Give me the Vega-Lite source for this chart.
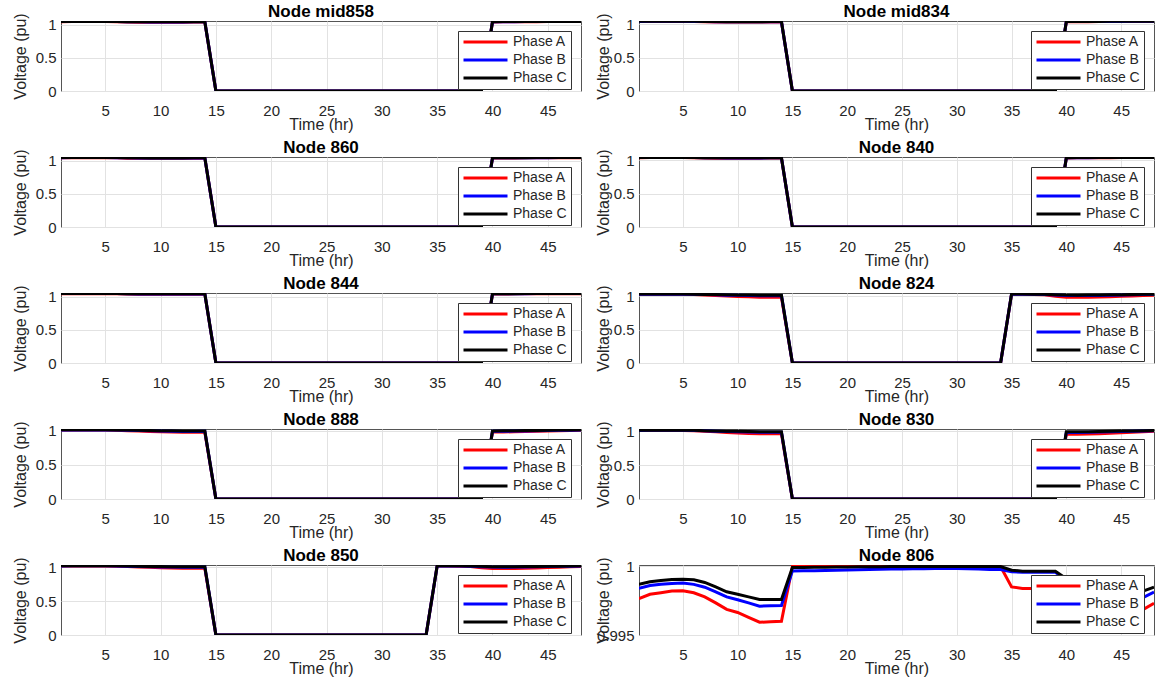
{
"$schema":"https://vega.github.io/schema/vega-lite/v6.json",
"padding":{"left":11,"top":2,"right":0,"bottom":0},
"background":"white",
"config":{
 "font":"Liberation Sans",
 "view":{"stroke":"#555555","strokeWidth":1},
 "title":{"font":"Liberation Sans","fontSize":17,"fontWeight":"bold","color":"#000000","offset":-8,"frame":"group"},
 "axis":{"labelFont":"Liberation Sans","labelFontSize":15,"labelColor":"#262626","titleFont":"Liberation Sans","titleFontSize":16,"titleFontWeight":"normal","titleColor":"#262626","grid":true,"gridColor":"#e2e2e2","gridWidth":1,"domain":false,"ticks":false},
 "axisX":{"labelPadding":12,"titlePadding":-2},
 "axisY":{"labelPadding":5},
 "legend":{"orient":"top-right","offset":10,"fillColor":"#ffffff","strokeColor":"#333333","padding":4,"symbolType":"stroke","symbolSize":1936,"symbolStrokeWidth":3,"clipHeight":14,"rowPadding":4,"labelFont":"Liberation Sans","labelFontSize":14,"labelColor":"#262626","labelOffset":4,"cornerRadius":0},
 "concat":{"spacing":12}
},
"data":{"values":[
{"n":"mid858","t":1,"A":1.044,"B":1.046,"C":1.047},{"n":"mid858","t":2,"A":1.045,"B":1.047,"C":1.048},{"n":"mid858","t":3,"A":1.045,"B":1.047,"C":1.048},{"n":"mid858","t":4,"A":1.045,"B":1.047,"C":1.048},{"n":"mid858","t":5,"A":1.045,"B":1.047,"C":1.048},{"n":"mid858","t":6,"A":1.043,"B":1.046,"C":1.047},{"n":"mid858","t":7,"A":1.039,"B":1.043,"C":1.044},{"n":"mid858","t":8,"A":1.037,"B":1.041,"C":1.043},{"n":"mid858","t":9,"A":1.036,"B":1.040,"C":1.042},{"n":"mid858","t":10,"A":1.036,"B":1.040,"C":1.042},{"n":"mid858","t":11,"A":1.036,"B":1.040,"C":1.042},{"n":"mid858","t":12,"A":1.037,"B":1.040,"C":1.042},{"n":"mid858","t":13,"A":1.038,"B":1.041,"C":1.043},{"n":"mid858","t":14,"A":1.039,"B":1.042,"C":1.043},
{"n":"mid858","t":15,"A":0,"B":0,"C":0},{"n":"mid858","t":16,"A":0,"B":0,"C":0},{"n":"mid858","t":17,"A":0,"B":0,"C":0},{"n":"mid858","t":18,"A":0,"B":0,"C":0},{"n":"mid858","t":19,"A":0,"B":0,"C":0},{"n":"mid858","t":20,"A":0,"B":0,"C":0},{"n":"mid858","t":21,"A":0,"B":0,"C":0},{"n":"mid858","t":22,"A":0,"B":0,"C":0},{"n":"mid858","t":23,"A":0,"B":0,"C":0},{"n":"mid858","t":24,"A":0,"B":0,"C":0},{"n":"mid858","t":25,"A":0,"B":0,"C":0},{"n":"mid858","t":26,"A":0,"B":0,"C":0},{"n":"mid858","t":27,"A":0,"B":0,"C":0},{"n":"mid858","t":28,"A":0,"B":0,"C":0},{"n":"mid858","t":29,"A":0,"B":0,"C":0},{"n":"mid858","t":30,"A":0,"B":0,"C":0},{"n":"mid858","t":31,"A":0,"B":0,"C":0},{"n":"mid858","t":32,"A":0,"B":0,"C":0},{"n":"mid858","t":33,"A":0,"B":0,"C":0},{"n":"mid858","t":34,"A":0,"B":0,"C":0},{"n":"mid858","t":35,"A":0,"B":0,"C":0},{"n":"mid858","t":36,"A":0,"B":0,"C":0},{"n":"mid858","t":37,"A":0,"B":0,"C":0},{"n":"mid858","t":38,"A":0,"B":0,"C":0},{"n":"mid858","t":39,"A":0,"B":0,"C":0},
{"n":"mid858","t":40,"A":1.040,"B":1.043,"C":1.044},{"n":"mid858","t":41,"A":1.041,"B":1.043,"C":1.045},{"n":"mid858","t":42,"A":1.042,"B":1.044,"C":1.045},{"n":"mid858","t":43,"A":1.043,"B":1.045,"C":1.046},{"n":"mid858","t":44,"A":1.044,"B":1.046,"C":1.047},{"n":"mid858","t":45,"A":1.045,"B":1.046,"C":1.047},{"n":"mid858","t":46,"A":1.045,"B":1.047,"C":1.048},{"n":"mid858","t":47,"A":1.045,"B":1.047,"C":1.048},{"n":"mid858","t":48,"A":1.045,"B":1.047,"C":1.048},

{"n":"mid834","t":1,"A":1.040,"B":1.042,"C":1.043},{"n":"mid834","t":2,"A":1.041,"B":1.043,"C":1.044},{"n":"mid834","t":3,"A":1.041,"B":1.043,"C":1.044},{"n":"mid834","t":4,"A":1.041,"B":1.043,"C":1.044},{"n":"mid834","t":5,"A":1.041,"B":1.043,"C":1.044},{"n":"mid834","t":6,"A":1.039,"B":1.042,"C":1.043},{"n":"mid834","t":7,"A":1.035,"B":1.039,"C":1.040},{"n":"mid834","t":8,"A":1.033,"B":1.037,"C":1.039},{"n":"mid834","t":9,"A":1.032,"B":1.036,"C":1.038},{"n":"mid834","t":10,"A":1.032,"B":1.036,"C":1.038},{"n":"mid834","t":11,"A":1.032,"B":1.036,"C":1.038},{"n":"mid834","t":12,"A":1.033,"B":1.036,"C":1.038},{"n":"mid834","t":13,"A":1.034,"B":1.037,"C":1.039},{"n":"mid834","t":14,"A":1.035,"B":1.038,"C":1.039},
{"n":"mid834","t":15,"A":0,"B":0,"C":0},{"n":"mid834","t":16,"A":0,"B":0,"C":0},{"n":"mid834","t":17,"A":0,"B":0,"C":0},{"n":"mid834","t":18,"A":0,"B":0,"C":0},{"n":"mid834","t":19,"A":0,"B":0,"C":0},{"n":"mid834","t":20,"A":0,"B":0,"C":0},{"n":"mid834","t":21,"A":0,"B":0,"C":0},{"n":"mid834","t":22,"A":0,"B":0,"C":0},{"n":"mid834","t":23,"A":0,"B":0,"C":0},{"n":"mid834","t":24,"A":0,"B":0,"C":0},{"n":"mid834","t":25,"A":0,"B":0,"C":0},{"n":"mid834","t":26,"A":0,"B":0,"C":0},{"n":"mid834","t":27,"A":0,"B":0,"C":0},{"n":"mid834","t":28,"A":0,"B":0,"C":0},{"n":"mid834","t":29,"A":0,"B":0,"C":0},{"n":"mid834","t":30,"A":0,"B":0,"C":0},{"n":"mid834","t":31,"A":0,"B":0,"C":0},{"n":"mid834","t":32,"A":0,"B":0,"C":0},{"n":"mid834","t":33,"A":0,"B":0,"C":0},{"n":"mid834","t":34,"A":0,"B":0,"C":0},{"n":"mid834","t":35,"A":0,"B":0,"C":0},{"n":"mid834","t":36,"A":0,"B":0,"C":0},{"n":"mid834","t":37,"A":0,"B":0,"C":0},{"n":"mid834","t":38,"A":0,"B":0,"C":0},{"n":"mid834","t":39,"A":0,"B":0,"C":0},
{"n":"mid834","t":40,"A":1.036,"B":1.039,"C":1.040},{"n":"mid834","t":41,"A":1.037,"B":1.039,"C":1.041},{"n":"mid834","t":42,"A":1.038,"B":1.040,"C":1.041},{"n":"mid834","t":43,"A":1.039,"B":1.041,"C":1.042},{"n":"mid834","t":44,"A":1.040,"B":1.042,"C":1.043},{"n":"mid834","t":45,"A":1.041,"B":1.042,"C":1.043},{"n":"mid834","t":46,"A":1.041,"B":1.043,"C":1.044},{"n":"mid834","t":47,"A":1.041,"B":1.043,"C":1.044},{"n":"mid834","t":48,"A":1.041,"B":1.043,"C":1.044},

{"n":"860","t":1,"A":1.044,"B":1.046,"C":1.047},{"n":"860","t":2,"A":1.045,"B":1.047,"C":1.048},{"n":"860","t":3,"A":1.045,"B":1.047,"C":1.048},{"n":"860","t":4,"A":1.045,"B":1.047,"C":1.048},{"n":"860","t":5,"A":1.045,"B":1.047,"C":1.048},{"n":"860","t":6,"A":1.043,"B":1.046,"C":1.047},{"n":"860","t":7,"A":1.039,"B":1.043,"C":1.044},{"n":"860","t":8,"A":1.037,"B":1.041,"C":1.043},{"n":"860","t":9,"A":1.036,"B":1.040,"C":1.042},{"n":"860","t":10,"A":1.036,"B":1.040,"C":1.042},{"n":"860","t":11,"A":1.036,"B":1.040,"C":1.042},{"n":"860","t":12,"A":1.037,"B":1.040,"C":1.042},{"n":"860","t":13,"A":1.038,"B":1.041,"C":1.043},{"n":"860","t":14,"A":1.039,"B":1.042,"C":1.043},
{"n":"860","t":15,"A":0,"B":0,"C":0},{"n":"860","t":16,"A":0,"B":0,"C":0},{"n":"860","t":17,"A":0,"B":0,"C":0},{"n":"860","t":18,"A":0,"B":0,"C":0},{"n":"860","t":19,"A":0,"B":0,"C":0},{"n":"860","t":20,"A":0,"B":0,"C":0},{"n":"860","t":21,"A":0,"B":0,"C":0},{"n":"860","t":22,"A":0,"B":0,"C":0},{"n":"860","t":23,"A":0,"B":0,"C":0},{"n":"860","t":24,"A":0,"B":0,"C":0},{"n":"860","t":25,"A":0,"B":0,"C":0},{"n":"860","t":26,"A":0,"B":0,"C":0},{"n":"860","t":27,"A":0,"B":0,"C":0},{"n":"860","t":28,"A":0,"B":0,"C":0},{"n":"860","t":29,"A":0,"B":0,"C":0},{"n":"860","t":30,"A":0,"B":0,"C":0},{"n":"860","t":31,"A":0,"B":0,"C":0},{"n":"860","t":32,"A":0,"B":0,"C":0},{"n":"860","t":33,"A":0,"B":0,"C":0},{"n":"860","t":34,"A":0,"B":0,"C":0},{"n":"860","t":35,"A":0,"B":0,"C":0},{"n":"860","t":36,"A":0,"B":0,"C":0},{"n":"860","t":37,"A":0,"B":0,"C":0},{"n":"860","t":38,"A":0,"B":0,"C":0},{"n":"860","t":39,"A":0,"B":0,"C":0},
{"n":"860","t":40,"A":1.040,"B":1.043,"C":1.044},{"n":"860","t":41,"A":1.041,"B":1.043,"C":1.045},{"n":"860","t":42,"A":1.042,"B":1.044,"C":1.045},{"n":"860","t":43,"A":1.043,"B":1.045,"C":1.046},{"n":"860","t":44,"A":1.044,"B":1.046,"C":1.047},{"n":"860","t":45,"A":1.045,"B":1.046,"C":1.047},{"n":"860","t":46,"A":1.045,"B":1.047,"C":1.048},{"n":"860","t":47,"A":1.045,"B":1.047,"C":1.048},{"n":"860","t":48,"A":1.045,"B":1.047,"C":1.048},

{"n":"840","t":1,"A":1.040,"B":1.042,"C":1.043},{"n":"840","t":2,"A":1.041,"B":1.043,"C":1.044},{"n":"840","t":3,"A":1.041,"B":1.043,"C":1.044},{"n":"840","t":4,"A":1.041,"B":1.043,"C":1.044},{"n":"840","t":5,"A":1.041,"B":1.043,"C":1.044},{"n":"840","t":6,"A":1.039,"B":1.042,"C":1.043},{"n":"840","t":7,"A":1.035,"B":1.039,"C":1.040},{"n":"840","t":8,"A":1.033,"B":1.037,"C":1.039},{"n":"840","t":9,"A":1.032,"B":1.036,"C":1.038},{"n":"840","t":10,"A":1.032,"B":1.036,"C":1.038},{"n":"840","t":11,"A":1.032,"B":1.036,"C":1.038},{"n":"840","t":12,"A":1.033,"B":1.036,"C":1.038},{"n":"840","t":13,"A":1.034,"B":1.037,"C":1.039},{"n":"840","t":14,"A":1.035,"B":1.038,"C":1.039},
{"n":"840","t":15,"A":0,"B":0,"C":0},{"n":"840","t":16,"A":0,"B":0,"C":0},{"n":"840","t":17,"A":0,"B":0,"C":0},{"n":"840","t":18,"A":0,"B":0,"C":0},{"n":"840","t":19,"A":0,"B":0,"C":0},{"n":"840","t":20,"A":0,"B":0,"C":0},{"n":"840","t":21,"A":0,"B":0,"C":0},{"n":"840","t":22,"A":0,"B":0,"C":0},{"n":"840","t":23,"A":0,"B":0,"C":0},{"n":"840","t":24,"A":0,"B":0,"C":0},{"n":"840","t":25,"A":0,"B":0,"C":0},{"n":"840","t":26,"A":0,"B":0,"C":0},{"n":"840","t":27,"A":0,"B":0,"C":0},{"n":"840","t":28,"A":0,"B":0,"C":0},{"n":"840","t":29,"A":0,"B":0,"C":0},{"n":"840","t":30,"A":0,"B":0,"C":0},{"n":"840","t":31,"A":0,"B":0,"C":0},{"n":"840","t":32,"A":0,"B":0,"C":0},{"n":"840","t":33,"A":0,"B":0,"C":0},{"n":"840","t":34,"A":0,"B":0,"C":0},{"n":"840","t":35,"A":0,"B":0,"C":0},{"n":"840","t":36,"A":0,"B":0,"C":0},{"n":"840","t":37,"A":0,"B":0,"C":0},{"n":"840","t":38,"A":0,"B":0,"C":0},{"n":"840","t":39,"A":0,"B":0,"C":0},
{"n":"840","t":40,"A":1.036,"B":1.039,"C":1.040},{"n":"840","t":41,"A":1.037,"B":1.039,"C":1.041},{"n":"840","t":42,"A":1.038,"B":1.040,"C":1.041},{"n":"840","t":43,"A":1.039,"B":1.041,"C":1.042},{"n":"840","t":44,"A":1.040,"B":1.042,"C":1.043},{"n":"840","t":45,"A":1.041,"B":1.042,"C":1.043},{"n":"840","t":46,"A":1.041,"B":1.043,"C":1.044},{"n":"840","t":47,"A":1.041,"B":1.043,"C":1.044},{"n":"840","t":48,"A":1.041,"B":1.043,"C":1.044},

{"n":"844","t":1,"A":1.044,"B":1.046,"C":1.047},{"n":"844","t":2,"A":1.045,"B":1.047,"C":1.048},{"n":"844","t":3,"A":1.045,"B":1.047,"C":1.048},{"n":"844","t":4,"A":1.045,"B":1.047,"C":1.048},{"n":"844","t":5,"A":1.045,"B":1.047,"C":1.048},{"n":"844","t":6,"A":1.043,"B":1.046,"C":1.047},{"n":"844","t":7,"A":1.039,"B":1.043,"C":1.044},{"n":"844","t":8,"A":1.037,"B":1.041,"C":1.043},{"n":"844","t":9,"A":1.036,"B":1.040,"C":1.042},{"n":"844","t":10,"A":1.036,"B":1.040,"C":1.042},{"n":"844","t":11,"A":1.036,"B":1.040,"C":1.042},{"n":"844","t":12,"A":1.037,"B":1.040,"C":1.042},{"n":"844","t":13,"A":1.038,"B":1.041,"C":1.043},{"n":"844","t":14,"A":1.039,"B":1.042,"C":1.043},
{"n":"844","t":15,"A":0,"B":0,"C":0},{"n":"844","t":16,"A":0,"B":0,"C":0},{"n":"844","t":17,"A":0,"B":0,"C":0},{"n":"844","t":18,"A":0,"B":0,"C":0},{"n":"844","t":19,"A":0,"B":0,"C":0},{"n":"844","t":20,"A":0,"B":0,"C":0},{"n":"844","t":21,"A":0,"B":0,"C":0},{"n":"844","t":22,"A":0,"B":0,"C":0},{"n":"844","t":23,"A":0,"B":0,"C":0},{"n":"844","t":24,"A":0,"B":0,"C":0},{"n":"844","t":25,"A":0,"B":0,"C":0},{"n":"844","t":26,"A":0,"B":0,"C":0},{"n":"844","t":27,"A":0,"B":0,"C":0},{"n":"844","t":28,"A":0,"B":0,"C":0},{"n":"844","t":29,"A":0,"B":0,"C":0},{"n":"844","t":30,"A":0,"B":0,"C":0},{"n":"844","t":31,"A":0,"B":0,"C":0},{"n":"844","t":32,"A":0,"B":0,"C":0},{"n":"844","t":33,"A":0,"B":0,"C":0},{"n":"844","t":34,"A":0,"B":0,"C":0},{"n":"844","t":35,"A":0,"B":0,"C":0},{"n":"844","t":36,"A":0,"B":0,"C":0},{"n":"844","t":37,"A":0,"B":0,"C":0},{"n":"844","t":38,"A":0,"B":0,"C":0},{"n":"844","t":39,"A":0,"B":0,"C":0},
{"n":"844","t":40,"A":1.040,"B":1.043,"C":1.044},{"n":"844","t":41,"A":1.041,"B":1.043,"C":1.045},{"n":"844","t":42,"A":1.042,"B":1.044,"C":1.045},{"n":"844","t":43,"A":1.043,"B":1.045,"C":1.046},{"n":"844","t":44,"A":1.044,"B":1.046,"C":1.047},{"n":"844","t":45,"A":1.045,"B":1.046,"C":1.047},{"n":"844","t":46,"A":1.045,"B":1.047,"C":1.048},{"n":"844","t":47,"A":1.045,"B":1.047,"C":1.048},{"n":"844","t":48,"A":1.045,"B":1.047,"C":1.048},

{"n":"824","t":1,"A":1.028,"B":1.030,"C":1.032},{"n":"824","t":2,"A":1.029,"B":1.031,"C":1.033},{"n":"824","t":3,"A":1.029,"B":1.031,"C":1.033},{"n":"824","t":4,"A":1.029,"B":1.031,"C":1.033},{"n":"824","t":5,"A":1.029,"B":1.031,"C":1.033},{"n":"824","t":6,"A":1.026,"B":1.029,"C":1.031},{"n":"824","t":7,"A":1.018,"B":1.024,"C":1.027},{"n":"824","t":8,"A":1.010,"B":1.020,"C":1.024},{"n":"824","t":9,"A":1.002,"B":1.016,"C":1.021},{"n":"824","t":10,"A":0.996,"B":1.013,"C":1.019},{"n":"824","t":11,"A":0.990,"B":1.010,"C":1.017},{"n":"824","t":12,"A":0.985,"B":1.008,"C":1.016},{"n":"824","t":13,"A":0.985,"B":1.008,"C":1.016},{"n":"824","t":14,"A":0.986,"B":1.009,"C":1.016},
{"n":"824","t":15,"A":0,"B":0,"C":0},{"n":"824","t":16,"A":0,"B":0,"C":0},{"n":"824","t":17,"A":0,"B":0,"C":0},{"n":"824","t":18,"A":0,"B":0,"C":0},{"n":"824","t":19,"A":0,"B":0,"C":0},{"n":"824","t":20,"A":0,"B":0,"C":0},{"n":"824","t":21,"A":0,"B":0,"C":0},{"n":"824","t":22,"A":0,"B":0,"C":0},{"n":"824","t":23,"A":0,"B":0,"C":0},{"n":"824","t":24,"A":0,"B":0,"C":0},{"n":"824","t":25,"A":0,"B":0,"C":0},{"n":"824","t":26,"A":0,"B":0,"C":0},{"n":"824","t":27,"A":0,"B":0,"C":0},{"n":"824","t":28,"A":0,"B":0,"C":0},{"n":"824","t":29,"A":0,"B":0,"C":0},{"n":"824","t":30,"A":0,"B":0,"C":0},{"n":"824","t":31,"A":0,"B":0,"C":0},{"n":"824","t":32,"A":0,"B":0,"C":0},{"n":"824","t":33,"A":0,"B":0,"C":0},{"n":"824","t":34,"A":0,"B":0,"C":0},
{"n":"824","t":35,"A":1.030,"B":1.031,"C":1.033},{"n":"824","t":36,"A":1.028,"B":1.030,"C":1.032},{"n":"824","t":37,"A":1.025,"B":1.029,"C":1.031},{"n":"824","t":38,"A":1.020,"B":1.026,"C":1.029},{"n":"824","t":39,"A":0.998,"B":1.017,"C":1.023},{"n":"824","t":40,"A":0.985,"B":1.010,"C":1.017},{"n":"824","t":41,"A":0.983,"B":1.009,"C":1.016},{"n":"824","t":42,"A":0.984,"B":1.010,"C":1.017},{"n":"824","t":43,"A":0.987,"B":1.012,"C":1.019},{"n":"824","t":44,"A":0.992,"B":1.015,"C":1.021},{"n":"824","t":45,"A":0.998,"B":1.018,"C":1.023},{"n":"824","t":46,"A":1.004,"B":1.021,"C":1.026},{"n":"824","t":47,"A":1.010,"B":1.024,"C":1.028},{"n":"824","t":48,"A":1.016,"B":1.027,"C":1.030},

{"n":"888","t":1,"A":1.008,"B":1.010,"C":1.012},{"n":"888","t":2,"A":1.009,"B":1.011,"C":1.013},{"n":"888","t":3,"A":1.009,"B":1.011,"C":1.013},{"n":"888","t":4,"A":1.009,"B":1.011,"C":1.013},{"n":"888","t":5,"A":1.009,"B":1.011,"C":1.013},{"n":"888","t":6,"A":1.006,"B":1.009,"C":1.011},{"n":"888","t":7,"A":1.000,"B":1.005,"C":1.008},{"n":"888","t":8,"A":0.994,"B":1.001,"C":1.005},{"n":"888","t":9,"A":0.988,"B":0.997,"C":1.001},{"n":"888","t":10,"A":0.984,"B":0.994,"C":0.999},{"n":"888","t":11,"A":0.980,"B":0.991,"C":0.997},{"n":"888","t":12,"A":0.977,"B":0.989,"C":0.996},{"n":"888","t":13,"A":0.977,"B":0.989,"C":0.996},{"n":"888","t":14,"A":0.978,"B":0.990,"C":0.996},
{"n":"888","t":15,"A":0,"B":0,"C":0},{"n":"888","t":16,"A":0,"B":0,"C":0},{"n":"888","t":17,"A":0,"B":0,"C":0},{"n":"888","t":18,"A":0,"B":0,"C":0},{"n":"888","t":19,"A":0,"B":0,"C":0},{"n":"888","t":20,"A":0,"B":0,"C":0},{"n":"888","t":21,"A":0,"B":0,"C":0},{"n":"888","t":22,"A":0,"B":0,"C":0},{"n":"888","t":23,"A":0,"B":0,"C":0},{"n":"888","t":24,"A":0,"B":0,"C":0},{"n":"888","t":25,"A":0,"B":0,"C":0},{"n":"888","t":26,"A":0,"B":0,"C":0},{"n":"888","t":27,"A":0,"B":0,"C":0},{"n":"888","t":28,"A":0,"B":0,"C":0},{"n":"888","t":29,"A":0,"B":0,"C":0},{"n":"888","t":30,"A":0,"B":0,"C":0},{"n":"888","t":31,"A":0,"B":0,"C":0},{"n":"888","t":32,"A":0,"B":0,"C":0},{"n":"888","t":33,"A":0,"B":0,"C":0},{"n":"888","t":34,"A":0,"B":0,"C":0},{"n":"888","t":35,"A":0,"B":0,"C":0},{"n":"888","t":36,"A":0,"B":0,"C":0},{"n":"888","t":37,"A":0,"B":0,"C":0},{"n":"888","t":38,"A":0,"B":0,"C":0},{"n":"888","t":39,"A":0,"B":0,"C":0},
{"n":"888","t":40,"A":0.980,"B":0.990,"C":0.996},{"n":"888","t":41,"A":0.981,"B":0.991,"C":0.997},{"n":"888","t":42,"A":0.983,"B":0.993,"C":0.999},{"n":"888","t":43,"A":0.986,"B":0.995,"C":1.001},{"n":"888","t":44,"A":0.990,"B":0.998,"C":1.003},{"n":"888","t":45,"A":0.994,"B":1.001,"C":1.006},{"n":"888","t":46,"A":0.998,"B":1.004,"C":1.008},{"n":"888","t":47,"A":1.002,"B":1.007,"C":1.010},{"n":"888","t":48,"A":1.005,"B":1.009,"C":1.012},

{"n":"830","t":1,"A":1.010,"B":1.012,"C":1.014},{"n":"830","t":2,"A":1.011,"B":1.013,"C":1.015},{"n":"830","t":3,"A":1.011,"B":1.013,"C":1.015},{"n":"830","t":4,"A":1.011,"B":1.013,"C":1.015},{"n":"830","t":5,"A":1.011,"B":1.013,"C":1.015},{"n":"830","t":6,"A":1.008,"B":1.011,"C":1.013},{"n":"830","t":7,"A":1.000,"B":1.006,"C":1.009},{"n":"830","t":8,"A":0.991,"B":1.001,"C":1.005},{"n":"830","t":9,"A":0.982,"B":0.996,"C":1.001},{"n":"830","t":10,"A":0.975,"B":0.992,"C":0.998},{"n":"830","t":11,"A":0.968,"B":0.988,"C":0.995},{"n":"830","t":12,"A":0.962,"B":0.985,"C":0.993},{"n":"830","t":13,"A":0.962,"B":0.985,"C":0.993},{"n":"830","t":14,"A":0.963,"B":0.986,"C":0.993},
{"n":"830","t":15,"A":0,"B":0,"C":0},{"n":"830","t":16,"A":0,"B":0,"C":0},{"n":"830","t":17,"A":0,"B":0,"C":0},{"n":"830","t":18,"A":0,"B":0,"C":0},{"n":"830","t":19,"A":0,"B":0,"C":0},{"n":"830","t":20,"A":0,"B":0,"C":0},{"n":"830","t":21,"A":0,"B":0,"C":0},{"n":"830","t":22,"A":0,"B":0,"C":0},{"n":"830","t":23,"A":0,"B":0,"C":0},{"n":"830","t":24,"A":0,"B":0,"C":0},{"n":"830","t":25,"A":0,"B":0,"C":0},{"n":"830","t":26,"A":0,"B":0,"C":0},{"n":"830","t":27,"A":0,"B":0,"C":0},{"n":"830","t":28,"A":0,"B":0,"C":0},{"n":"830","t":29,"A":0,"B":0,"C":0},{"n":"830","t":30,"A":0,"B":0,"C":0},{"n":"830","t":31,"A":0,"B":0,"C":0},{"n":"830","t":32,"A":0,"B":0,"C":0},{"n":"830","t":33,"A":0,"B":0,"C":0},{"n":"830","t":34,"A":0,"B":0,"C":0},{"n":"830","t":35,"A":0,"B":0,"C":0},{"n":"830","t":36,"A":0,"B":0,"C":0},{"n":"830","t":37,"A":0,"B":0,"C":0},{"n":"830","t":38,"A":0,"B":0,"C":0},{"n":"830","t":39,"A":0,"B":0,"C":0},
{"n":"830","t":40,"A":0.955,"B":0.982,"C":0.991},{"n":"830","t":41,"A":0.955,"B":0.983,"C":0.992},{"n":"830","t":42,"A":0.958,"B":0.985,"C":0.994},{"n":"830","t":43,"A":0.963,"B":0.988,"C":0.996},{"n":"830","t":44,"A":0.969,"B":0.992,"C":0.999},{"n":"830","t":45,"A":0.976,"B":0.996,"C":1.002},{"n":"830","t":46,"A":0.984,"B":1.000,"C":1.005},{"n":"830","t":47,"A":0.992,"B":1.004,"C":1.008},{"n":"830","t":48,"A":0.999,"B":1.008,"C":1.011},

{"n":"850","t":1,"A":1.018,"B":1.020,"C":1.022},{"n":"850","t":2,"A":1.019,"B":1.021,"C":1.023},{"n":"850","t":3,"A":1.019,"B":1.021,"C":1.023},{"n":"850","t":4,"A":1.019,"B":1.021,"C":1.023},{"n":"850","t":5,"A":1.019,"B":1.021,"C":1.023},{"n":"850","t":6,"A":1.016,"B":1.019,"C":1.021},{"n":"850","t":7,"A":1.010,"B":1.015,"C":1.018},{"n":"850","t":8,"A":1.004,"B":1.011,"C":1.015},{"n":"850","t":9,"A":0.998,"B":1.008,"C":1.012},{"n":"850","t":10,"A":0.993,"B":1.005,"C":1.010},{"n":"850","t":11,"A":0.988,"B":1.003,"C":1.009},{"n":"850","t":12,"A":0.984,"B":1.001,"C":1.008},{"n":"850","t":13,"A":0.984,"B":1.001,"C":1.008},{"n":"850","t":14,"A":0.985,"B":1.002,"C":1.008},
{"n":"850","t":15,"A":0,"B":0,"C":0},{"n":"850","t":16,"A":0,"B":0,"C":0},{"n":"850","t":17,"A":0,"B":0,"C":0},{"n":"850","t":18,"A":0,"B":0,"C":0},{"n":"850","t":19,"A":0,"B":0,"C":0},{"n":"850","t":20,"A":0,"B":0,"C":0},{"n":"850","t":21,"A":0,"B":0,"C":0},{"n":"850","t":22,"A":0,"B":0,"C":0},{"n":"850","t":23,"A":0,"B":0,"C":0},{"n":"850","t":24,"A":0,"B":0,"C":0},{"n":"850","t":25,"A":0,"B":0,"C":0},{"n":"850","t":26,"A":0,"B":0,"C":0},{"n":"850","t":27,"A":0,"B":0,"C":0},{"n":"850","t":28,"A":0,"B":0,"C":0},{"n":"850","t":29,"A":0,"B":0,"C":0},{"n":"850","t":30,"A":0,"B":0,"C":0},{"n":"850","t":31,"A":0,"B":0,"C":0},{"n":"850","t":32,"A":0,"B":0,"C":0},{"n":"850","t":33,"A":0,"B":0,"C":0},{"n":"850","t":34,"A":0,"B":0,"C":0},
{"n":"850","t":35,"A":1.020,"B":1.021,"C":1.023},{"n":"850","t":36,"A":1.018,"B":1.020,"C":1.022},{"n":"850","t":37,"A":1.015,"B":1.018,"C":1.021},{"n":"850","t":38,"A":1.010,"B":1.016,"C":1.019},{"n":"850","t":39,"A":0.992,"B":1.008,"C":1.013},{"n":"850","t":40,"A":0.982,"B":1.002,"C":1.008},{"n":"850","t":41,"A":0.980,"B":1.001,"C":1.008},{"n":"850","t":42,"A":0.981,"B":1.002,"C":1.009},{"n":"850","t":43,"A":0.984,"B":1.004,"C":1.010},{"n":"850","t":44,"A":0.989,"B":1.007,"C":1.012},{"n":"850","t":45,"A":0.995,"B":1.010,"C":1.014},{"n":"850","t":46,"A":1.001,"B":1.013,"C":1.016},{"n":"850","t":47,"A":1.007,"B":1.016,"C":1.019},{"n":"850","t":48,"A":1.012,"B":1.018,"C":1.021},

{"n":"806","t":1,"A":0.99765,"B":0.99840,"C":0.99870},{"n":"806","t":2,"A":0.99797,"B":0.99860,"C":0.99888},{"n":"806","t":3,"A":0.99808,"B":0.99869,"C":0.99897},{"n":"806","t":4,"A":0.99820,"B":0.99876,"C":0.99904},{"n":"806","t":5,"A":0.99822,"B":0.99879,"C":0.99907},{"n":"806","t":6,"A":0.99808,"B":0.99869,"C":0.99902},{"n":"806","t":7,"A":0.99778,"B":0.99848,"C":0.99883},{"n":"806","t":8,"A":0.99734,"B":0.99815,"C":0.99850},{"n":"806","t":9,"A":0.99687,"B":0.99778,"C":0.99815},{"n":"806","t":10,"A":0.99664,"B":0.99757,"C":0.99797},{"n":"806","t":11,"A":0.99628,"B":0.99734,"C":0.99778},{"n":"806","t":12,"A":0.99593,"B":0.99710,"C":0.99759},{"n":"806","t":13,"A":0.99596,"B":0.99713,"C":0.99759},{"n":"806","t":14,"A":0.99600,"B":0.99715,"C":0.99759},
{"n":"806","t":15,"A":0.99999,"B":0.99967,"C":0.99991},{"n":"806","t":16,"A":0.99999,"B":0.99968,"C":0.99992},{"n":"806","t":17,"A":0.99999,"B":0.99969,"C":0.99993},{"n":"806","t":18,"A":0.99999,"B":0.99970,"C":0.99994},{"n":"806","t":19,"A":0.99999,"B":0.99972,"C":0.99995},{"n":"806","t":20,"A":0.99999,"B":0.99974,"C":0.99996},{"n":"806","t":21,"A":0.99999,"B":0.99976,"C":0.99997},{"n":"806","t":22,"A":0.99999,"B":0.99977,"C":0.99998},{"n":"806","t":23,"A":0.99999,"B":0.99979,"C":0.99998},{"n":"806","t":24,"A":0.99999,"B":0.99980,"C":0.99999},{"n":"806","t":25,"A":0.99999,"B":0.99981,"C":0.99999},{"n":"806","t":26,"A":0.99999,"B":0.99982,"C":0.99999},{"n":"806","t":27,"A":0.99999,"B":0.99983,"C":0.99999},{"n":"806","t":28,"A":0.99999,"B":0.99984,"C":0.99999},{"n":"806","t":29,"A":0.99999,"B":0.99984,"C":0.99999},{"n":"806","t":30,"A":0.99999,"B":0.99984,"C":0.99999},{"n":"806","t":31,"A":0.99999,"B":0.99982,"C":0.99999},{"n":"806","t":32,"A":0.99999,"B":0.99980,"C":0.99999},{"n":"806","t":33,"A":0.99999,"B":0.99978,"C":0.99999},{"n":"806","t":34,"A":0.99999,"B":0.99977,"C":0.99999},
{"n":"806","t":35,"A":0.99850,"B":0.99960,"C":0.99972},{"n":"806","t":36,"A":0.99839,"B":0.99958,"C":0.99965},{"n":"806","t":37,"A":0.99838,"B":0.99958,"C":0.99965},{"n":"806","t":38,"A":0.99838,"B":0.99958,"C":0.99965},{"n":"806","t":39,"A":0.99836,"B":0.99957,"C":0.99964},{"n":"806","t":40,"A":0.99800,"B":0.99900,"C":0.99910},{"n":"806","t":41,"A":0.99770,"B":0.99870,"C":0.99890},{"n":"806","t":42,"A":0.99740,"B":0.99840,"C":0.99870},{"n":"806","t":43,"A":0.99710,"B":0.99810,"C":0.99850},{"n":"806","t":44,"A":0.99680,"B":0.99780,"C":0.99830},{"n":"806","t":45,"A":0.99660,"B":0.99760,"C":0.99810},{"n":"806","t":46,"A":0.99660,"B":0.99750,"C":0.99800},{"n":"806","t":47,"A":0.99685,"B":0.99773,"C":0.99820},{"n":"806","t":48,"A":0.99731,"B":0.99813,"C":0.99848}
]},
"resolve":{"scale":{"color":"independent"},"legend":{"color":"independent"}},
"spacing":5,
"vconcat":[
{"hconcat":[
{"title":"Node mid858","width":520,"height":70,"transform":[{"filter":"datum.n=='mid858'"},{"fold":["A","B","C"],"as":["ph","v"]}],"mark":{"type":"line","strokeWidth":3,"clip":true},"encoding":{"x":{"field":"t","type":"quantitative","scale":{"domain":[1,48]},"axis":{"values":[5,10,15,20,25,30,35,40,45],"title":"Time (hr)"}},"y":{"field":"v","type":"quantitative","scale":{"domain":[0,1.054]},"axis":{"values":[0,0.5,1],"format":"~g","title":"Voltage (pu)","titleX":-33}},"color":{"field":"ph","type":"nominal","scale":{"domain":["A","B","C"],"range":["#ff0000","#0000ff","#000000"]},"legend":{"title":null,"labelExpr":"'Phase ' + datum.label"}}}},
{"title":"Node mid834","width":515,"height":70,"transform":[{"filter":"datum.n=='mid834'"},{"fold":["A","B","C"],"as":["ph","v"]}],"mark":{"type":"line","strokeWidth":3,"clip":true},"encoding":{"x":{"field":"t","type":"quantitative","scale":{"domain":[1,48]},"axis":{"values":[5,10,15,20,25,30,35,40,45],"title":"Time (hr)"}},"y":{"field":"v","type":"quantitative","scale":{"domain":[0,1.048]},"axis":{"values":[0,0.5,1],"format":"~g","title":"Voltage (pu)","titleX":-28}},"color":{"field":"ph","type":"nominal","scale":{"domain":["A","B","C"],"range":["#ff0000","#0000ff","#000000"]},"legend":{"title":null,"labelExpr":"'Phase ' + datum.label"}}}}
],"resolve":{"scale":{"color":"independent"},"legend":{"color":"independent"}}},
{"hconcat":[
{"title":"Node 860","width":520,"height":70,"transform":[{"filter":"datum.n=='860'"},{"fold":["A","B","C"],"as":["ph","v"]}],"mark":{"type":"line","strokeWidth":3,"clip":true},"encoding":{"x":{"field":"t","type":"quantitative","scale":{"domain":[1,48]},"axis":{"values":[5,10,15,20,25,30,35,40,45],"title":"Time (hr)"}},"y":{"field":"v","type":"quantitative","scale":{"domain":[0,1.056]},"axis":{"values":[0,0.5,1],"format":"~g","title":"Voltage (pu)","titleX":-33}},"color":{"field":"ph","type":"nominal","scale":{"domain":["A","B","C"],"range":["#ff0000","#0000ff","#000000"]},"legend":{"title":null,"labelExpr":"'Phase ' + datum.label"}}}},
{"title":"Node 840","width":515,"height":70,"transform":[{"filter":"datum.n=='840'"},{"fold":["A","B","C"],"as":["ph","v"]}],"mark":{"type":"line","strokeWidth":3,"clip":true},"encoding":{"x":{"field":"t","type":"quantitative","scale":{"domain":[1,48]},"axis":{"values":[5,10,15,20,25,30,35,40,45],"title":"Time (hr)"}},"y":{"field":"v","type":"quantitative","scale":{"domain":[0,1.05]},"axis":{"values":[0,0.5,1],"format":"~g","title":"Voltage (pu)","titleX":-28}},"color":{"field":"ph","type":"nominal","scale":{"domain":["A","B","C"],"range":["#ff0000","#0000ff","#000000"]},"legend":{"title":null,"labelExpr":"'Phase ' + datum.label"}}}}
],"resolve":{"scale":{"color":"independent"},"legend":{"color":"independent"}}},
{"hconcat":[
{"title":"Node 844","width":520,"height":70,"transform":[{"filter":"datum.n=='844'"},{"fold":["A","B","C"],"as":["ph","v"]}],"mark":{"type":"line","strokeWidth":3,"clip":true},"encoding":{"x":{"field":"t","type":"quantitative","scale":{"domain":[1,48]},"axis":{"values":[5,10,15,20,25,30,35,40,45],"title":"Time (hr)"}},"y":{"field":"v","type":"quantitative","scale":{"domain":[0,1.055]},"axis":{"values":[0,0.5,1],"format":"~g","title":"Voltage (pu)","titleX":-33}},"color":{"field":"ph","type":"nominal","scale":{"domain":["A","B","C"],"range":["#ff0000","#0000ff","#000000"]},"legend":{"title":null,"labelExpr":"'Phase ' + datum.label"}}}},
{"title":"Node 824","width":515,"height":70,"transform":[{"filter":"datum.n=='824'"},{"fold":["A","B","C"],"as":["ph","v"]}],"mark":{"type":"line","strokeWidth":3,"clip":true},"encoding":{"x":{"field":"t","type":"quantitative","scale":{"domain":[1,48]},"axis":{"values":[5,10,15,20,25,30,35,40,45],"title":"Time (hr)"}},"y":{"field":"v","type":"quantitative","scale":{"domain":[0,1.048]},"axis":{"values":[0,0.5,1],"format":"~g","title":"Voltage (pu)","titleX":-28}},"color":{"field":"ph","type":"nominal","scale":{"domain":["A","B","C"],"range":["#ff0000","#0000ff","#000000"]},"legend":{"title":null,"labelExpr":"'Phase ' + datum.label"}}}}
],"resolve":{"scale":{"color":"independent"},"legend":{"color":"independent"}}},
{"hconcat":[
{"title":"Node 888","width":520,"height":70,"transform":[{"filter":"datum.n=='888'"},{"fold":["A","B","C"],"as":["ph","v"]}],"mark":{"type":"line","strokeWidth":3,"clip":true},"encoding":{"x":{"field":"t","type":"quantitative","scale":{"domain":[1,48]},"axis":{"values":[5,10,15,20,25,30,35,40,45],"title":"Time (hr)"}},"y":{"field":"v","type":"quantitative","scale":{"domain":[0,1.024]},"axis":{"values":[0,0.5,1],"format":"~g","title":"Voltage (pu)","titleX":-33}},"color":{"field":"ph","type":"nominal","scale":{"domain":["A","B","C"],"range":["#ff0000","#0000ff","#000000"]},"legend":{"title":null,"labelExpr":"'Phase ' + datum.label"}}}},
{"title":"Node 830","width":515,"height":70,"transform":[{"filter":"datum.n=='830'"},{"fold":["A","B","C"],"as":["ph","v"]}],"mark":{"type":"line","strokeWidth":3,"clip":true},"encoding":{"x":{"field":"t","type":"quantitative","scale":{"domain":[1,48]},"axis":{"values":[5,10,15,20,25,30,35,40,45],"title":"Time (hr)"}},"y":{"field":"v","type":"quantitative","scale":{"domain":[0,1.033]},"axis":{"values":[0,0.5,1],"format":"~g","title":"Voltage (pu)","titleX":-28}},"color":{"field":"ph","type":"nominal","scale":{"domain":["A","B","C"],"range":["#ff0000","#0000ff","#000000"]},"legend":{"title":null,"labelExpr":"'Phase ' + datum.label"}}}}
],"resolve":{"scale":{"color":"independent"},"legend":{"color":"independent"}}},
{"hconcat":[
{"title":"Node 850","width":520,"height":70,"transform":[{"filter":"datum.n=='850'"},{"fold":["A","B","C"],"as":["ph","v"]}],"mark":{"type":"line","strokeWidth":3,"clip":true},"encoding":{"x":{"field":"t","type":"quantitative","scale":{"domain":[1,48]},"axis":{"values":[5,10,15,20,25,30,35,40,45],"title":"Time (hr)"}},"y":{"field":"v","type":"quantitative","scale":{"domain":[0,1.033]},"axis":{"values":[0,0.5,1],"format":"~g","title":"Voltage (pu)","titleX":-33}},"color":{"field":"ph","type":"nominal","scale":{"domain":["A","B","C"],"range":["#ff0000","#0000ff","#000000"]},"legend":{"title":null,"labelExpr":"'Phase ' + datum.label"}}}},
{"title":"Node 806","width":515,"height":70,"transform":[{"filter":"datum.n=='806'"},{"fold":["A","B","C"],"as":["ph","v"]}],"mark":{"type":"line","strokeWidth":3,"clip":true},"encoding":{"x":{"field":"t","type":"quantitative","scale":{"domain":[1,48]},"axis":{"values":[5,10,15,20,25,30,35,40,45],"title":"Time (hr)"}},"y":{"field":"v","type":"quantitative","scale":{"domain":[0.995,1.0001],"zero":false},"axis":{"values":[0.995,1],"format":"~g","title":"Voltage (pu)","titleX":-28}},"color":{"field":"ph","type":"nominal","scale":{"domain":["A","B","C"],"range":["#ff0000","#0000ff","#000000"]},"legend":{"title":null,"labelExpr":"'Phase ' + datum.label"}}}}
],"resolve":{"scale":{"color":"independent"},"legend":{"color":"independent"}}}
]
}
